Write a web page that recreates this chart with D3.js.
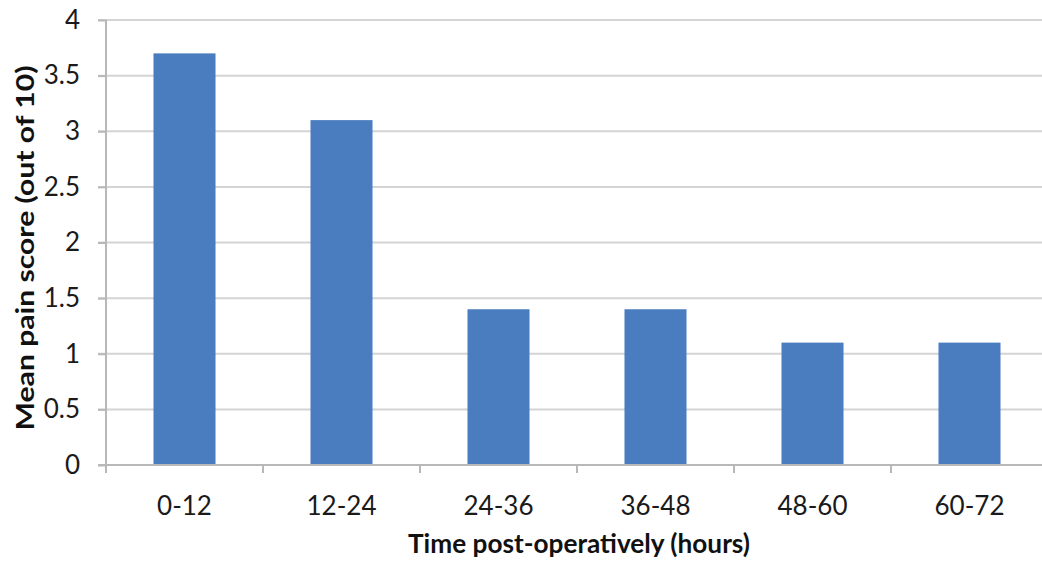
<!DOCTYPE html>
<html><head><meta charset="utf-8">
<script src="https://cdn.jsdelivr.net/npm/d3@7"></script>
<style>body{margin:0;background:#fff}svg{display:block}</style>
</head><body>
<svg id="c" width="1042" height="563"></svg>
<script>
const categories = ["0-12","12-24","24-36","36-48","48-60","60-72"];
const values = [3.7, 3.1, 1.4, 1.4, 1.1, 1.1];
const yTicks = [0,0.5,1,1.5,2,2.5,3,3.5,4];
const yTickLabels = ["0","0.5","1","1.5","2","2.5","3","3.5","4"];
const xTitle = "Time post-operatively (hours)";
const yTitle = "Mean pain score (out of 10)";

const svg = d3.select("#c");
const font = "Lato, 'Open Sans', sans-serif";
const x = d3.scaleBand().domain(categories).range([106, 1048]).paddingInner(0.605).paddingOuter(0.3025);
const y = d3.scaleLinear().domain([0,4]).range([465, 20]);

// gridlines
svg.append("g").selectAll("line").data(yTicks.filter(d=>d>0)).join("line")
  .attr("x1", 98).attr("x2", 1042)
  .attr("y1", d=>y(d)).attr("y2", d=>y(d))
  .attr("stroke", "#d4d4d4").attr("stroke-width", 2);

// bars
svg.append("g").selectAll("rect").data(values).join("rect")
  .attr("x", (d,i)=>x(categories[i]))
  .attr("width", x.bandwidth())
  .attr("y", d=>y(d))
  .attr("height", d=>y(0)-y(d))
  .attr("fill", "#4a7dbf");

// y axis
const yAxis = d3.axisLeft(y).tickValues(yTicks).tickFormat((d,i)=>yTickLabels[i]).tickSize(8).tickPadding(18);
const gy = svg.append("g").attr("transform","translate(106,0)").call(yAxis);
gy.select(".domain").attr("stroke","#b8b8b8").attr("stroke-width",2).attr("d","M0,20V465");
gy.selectAll(".tick line").attr("stroke","#b8b8b8").attr("stroke-width",2);
gy.selectAll("text").attr("font-family",font).attr("font-size",26).attr("fill","#1a1a1a");

// x axis
const xAxis = d3.axisBottom(x).tickSize(0).tickPadding(0);
const gx = svg.append("g").attr("transform","translate(0,465)").call(xAxis);
gx.select(".domain").attr("stroke","#b8b8b8").attr("stroke-width",2).attr("d","M98,0H1042");
gx.selectAll("text").attr("font-family",font).attr("font-size",26).attr("fill","#1a1a1a")
  .attr("y", 50).attr("dy", 0);
// band boundary ticks
const step = x.step();
svg.append("g").selectAll("line").data(d3.range(categories.length+1)).join("line")
  .attr("x1", i=>106+i*step).attr("x2", i=>106+i*step)
  .attr("y1", 465).attr("y2", 473)
  .attr("stroke","#b8b8b8").attr("stroke-width",2);

// titles
svg.append("text").attr("x", 579).attr("y", 553).attr("text-anchor","middle")
  .attr("font-family",font).attr("font-weight","bold").attr("font-size",26)
  .attr("textLength",342).attr("lengthAdjust","spacingAndGlyphs")
  .attr("fill","#111").text(xTitle);
svg.append("text").attr("transform","translate(34,248) rotate(-90)").attr("text-anchor","middle")
  .attr("font-family",font).attr("font-weight","bold").attr("font-size",25)
  .attr("textLength",365).attr("lengthAdjust","spacingAndGlyphs")
  .attr("fill","#111").text(yTitle);
</script>
</body></html>
